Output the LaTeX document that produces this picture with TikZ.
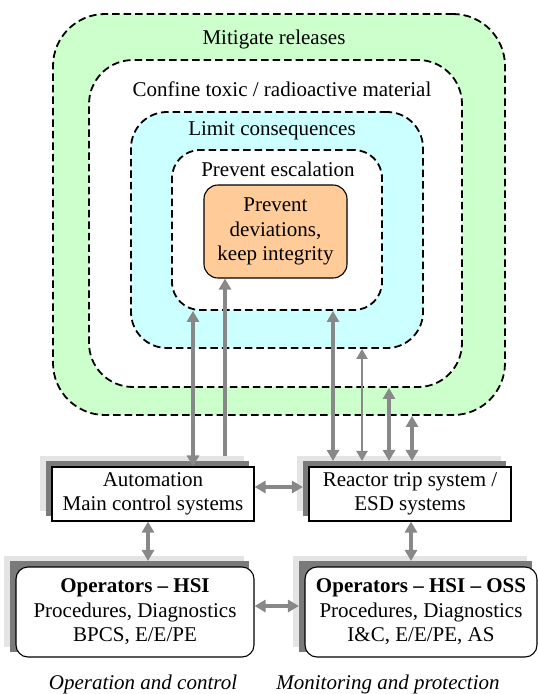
\documentclass[tikz,border=0pt]{standalone}
\usepackage{fontspec}
\setmainfont{Liberation Serif}
\usetikzlibrary{arrows.meta,backgrounds}

\definecolor{mitgreen}{HTML}{CCFFCC}
\definecolor{limcyan}{HTML}{CCFFFF}
\definecolor{coreorange}{HTML}{FFCC99}
\definecolor{shadelight}{HTML}{E4E4E4}
\definecolor{shadedark}{HTML}{7A7A7A}
\definecolor{flowgray}{HTML}{888888}

\begin{document}
\begin{tikzpicture}[x=1pt,y=-1pt,
  layer/.style={draw=black, dash pattern=on 7.5pt off 4pt, line width=1.8pt, inner sep=0pt},
  txt/.style={font=\fontsize{21}{24.5}\selectfont, align=center, inner sep=0pt},
  sysbox/.style={txt, draw=black, fill=white, line width=1.1pt},
  flow/.style={draw=flowgray, line width=3.2pt,
    {Triangle[length=11pt,width=12pt]}-{Triangle[length=11pt,width=12pt]}},
  flowup/.style={draw=flowgray, line width=3.2pt, -{Triangle[length=11pt,width=12pt]}},
  flowthin/.style={draw=flowgray, line width=2.2pt,
    {Triangle[length=10pt,width=11pt]}-{Triangle[length=10pt,width=11pt]}}]

  \useasboundingbox (0,0) rectangle (538,694);

  %-----------------------------
  % Nested layers of protection
  \node[layer, fill=mitgreen, rounded corners=52pt, minimum width=452pt, minimum height=401pt] (r1) at (279,214.5) {};
  \node[layer, fill=white, rounded corners=44pt, minimum width=373pt, minimum height=327pt] (r2) at (275.5,223.5) {};
  \node[layer, fill=limcyan, rounded corners=36pt, minimum width=292pt, minimum height=236pt] (r3) at (277,230) {};
  \node[layer, fill=white, rounded corners=28pt, minimum width=210pt, minimum height=160pt] (r4) at (277,230) {};
  \node[txt, draw=black, line width=1.1pt, fill=coreorange, rounded corners=14pt,
        minimum width=143pt, minimum height=93pt] (core) at (275.5,231.5)
        {Prevent\\deviations,\\keep integrity};

  % Layer titles
  \node[txt] (lmit)  at (274,39)  {Mitigate releases};
  \node[txt] (lconf) at (282,89)  {Confine toxic / radioactive material};
  \node[txt] (llim)  at (272,131) {Limit consequences};
  \node[txt] (lesc)  at (278,169) {Prevent escalation};

  %-----------------------------
  % System boxes
  \node[sysbox, minimum width=202pt, minimum height=54pt] (auto) at (153,494)
        {Automation\\Main control systems};
  \node[sysbox, minimum width=202pt, minimum height=54pt] (rts) at (410,494)
        {Reactor trip system /\\ESD systems};
  \node[sysbox, rounded corners=12pt, minimum width=238pt, minimum height=90pt] (ophsi) at (135,612)
        {\textbf{Operators – HSI}\\Procedures, Diagnostics\\BPCS, E/E/PE};
  \node[sysbox, rounded corners=12pt, minimum width=232pt, minimum height=90pt] (oposs) at (421,612)
        {\textbf{Operators – HSI – OSS}\\Procedures, Diagnostics\\I\&C, E/E/PE, AS};

  % stacked shadows behind the boxes
  \begin{scope}[on background layer]
    \foreach \b in {auto,rts,ophsi,oposs} {
      \fill[shadelight] ([shift={(-11,-10.5)}]\b.south west) rectangle ([shift={(-11,-10.5)}]\b.north east);
      \fill[shadedark] ([shift={(-5.5,-5.5)}]\b.south west) rectangle ([shift={(-5.5,-5.5)}]\b.north east);
    }
  \end{scope}

  %-----------------------------
  % Links to the layers
  \coordinate (xa) at (193,0);
  \coordinate (xb) at (225,0);
  \coordinate (xc) at (333,0);
  \coordinate (xd) at (362,0);
  \coordinate (xe) at (389,0);
  \coordinate (xf) at (412,0);
  \coordinate (xg) at (148,0);
  \coordinate (xh) at (411,0);

  \draw[flow] (auto.north -| xa) -- (r4.south -| xa);
  \draw[flowup] ([yshift=10pt]auto.north -| xb) -- (core.south -| xb);
  \draw[flow] ([yshift=5.5pt]rts.north -| xc) -- (r4.south -| xc);
  \draw[flowthin] ([yshift=5.5pt]rts.north -| xd) -- (r3.south -| xd);
  \draw[flow] ([yshift=5.5pt]rts.north -| xe) -- (r2.south -| xe);
  \draw[flow] ([yshift=5.5pt]rts.north -| xf) -- (r1.south -| xf);

  % Links between the boxes
  \draw[flow] ([yshift=7pt]auto.east) -- ([xshift=-5.5pt,yshift=7pt]rts.west);
  \draw[flow] ([yshift=6pt]ophsi.east) -- ([xshift=-5.5pt,yshift=6pt]oposs.west);
  \draw[flow] (auto.south -| xg) -- ([yshift=5.5pt]ophsi.north -| xg);
  \draw[flow] (rts.south -| xh) -- ([yshift=5.5pt]oposs.north -| xh);

  %-----------------------------
  % Captions
  \node[txt, font=\fontsize{21}{24.5}\selectfont\itshape] (capa) at (143,684) {Operation and control};
  \node[txt, font=\fontsize{21}{24.5}\selectfont\itshape] (capb) at (388,684) {Monitoring and protection};
\end{tikzpicture}
\end{document}
